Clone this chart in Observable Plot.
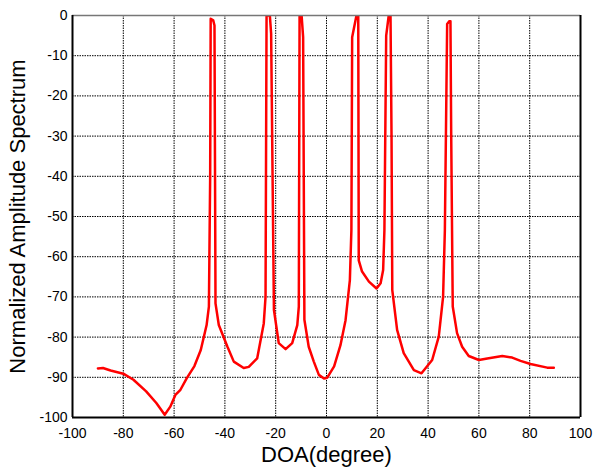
<!DOCTYPE html>
<html><head><meta charset="utf-8">
<script src="https://cdn.jsdelivr.net/npm/d3@7"></script>
<script src="https://cdn.jsdelivr.net/npm/@observablehq/plot@0.6"></script>
<style>body{margin:0;background:#fff;} #chart svg{display:block;}</style>
</head><body><div id="chart"></div>
<script>
const doa = [-90, -88, -85, -80, -76, -71, -67, -63.7, -61.5, -59.5, -57.5, -55, -52, -49.5, -47.2, -46.3, -45.8, -45.6, -44.6, -44.1, -43.7, -42.4, -39, -36.5, -32.6, -30.6, -27.3, -24.7, -24, -23.6, -22.3, -21.8, -20.7, -18.8, -16.1, -13.5, -11.5, -10.9, -10.6, -9.8, -9.2, -8.7, -7, -5, -3, -1, 0.3, 3, 5.5, 7.5, 9.2, 9.8, 10.1, 11.8, 12.5, 12.7, 14, 16.7, 19.7, 21.3, 22.3, 22.8, 23.5, 24.5, 25.2, 25.6, 25.9, 27.8, 30.4, 34.4, 37.4, 41.6, 44.2, 45.9, 46.6, 47.5, 48.4, 48.8, 49.1, 49.7, 51.4, 53.4, 56, 60, 63.3, 69.2, 73.1, 76.4, 80.3, 86.9, 89.5];
const amp = [-87.8, -87.7, -88.3, -89.1, -90.6, -93.5, -96.4, -99.3, -97.3, -94.4, -93.1, -90.2, -87.2, -83.2, -77, -72.4, -40, -0.8, -1.2, -2.5, -71.6, -77, -82.4, -86.1, -87.7, -87.4, -85.3, -76.6, -70, 0, 0, -4.5, -73.2, -81.5, -83, -81.5, -77, -72.4, 0, 0, -5.4, -75.7, -82.4, -86.1, -89.4, -90.3, -90.1, -87.3, -82, -75.8, -65.8, -53.4, -5.4, 0, 0, -60.9, -63.7, -66.2, -67.9, -66.6, -63.3, -53.4, -5, 0, 0, -30, -68.3, -78.2, -84, -88.2, -89, -85.7, -79.9, -70, -53.4, -2.1, -1.4, -1.4, -30, -72.4, -79, -82.4, -84.7, -85.7, -85.3, -84.7, -85.1, -85.9, -86.7, -87.6, -87.6];
const xTicks = [-100, -80, -60, -40, -20, 0, 20, 40, 60, 80, 100];
const yTicks = [0, -10, -20, -30, -40, -50, -60, -70, -80, -90, -100];
const xLabel = "DOA(degree)";
const yLabel = "Normalized Amplitude Spectrum";

const data = doa.map((d, i) => ({x: d, y: amp[i]}));
const font = "'Liberation Sans', Arial, sans-serif";

const plot = Plot.plot({
  width: 593, height: 468,
  marginLeft: 72, marginRight: 13, marginTop: 15, marginBottom: 51,
  x: {domain: [-100, 100]},
  y: {domain: [-100, 0]},
  style: {fontFamily: font, color: "#000", background: "#fff", overflow: "visible"},
  marks: [
    Plot.ruleX(xTicks.slice(1, -1), {stroke: "#000", strokeWidth: 1, strokeDasharray: "1.5,1", strokeOpacity: 1}),
    Plot.ruleY(yTicks.slice(1, -1), {stroke: "#000", strokeWidth: 1, strokeDasharray: "1.5,1", strokeOpacity: 1}),
    Plot.axisX({ticks: xTicks, tickSize: 0, tickPadding: 11, fontSize: 14, label: null, tickFormat: d => String(d)}),
    Plot.axisY({ticks: yTicks, tickSize: 0, tickPadding: 5, fontSize: 14, label: null, tickFormat: d => String(d)}),
    Plot.line(data, {x: "x", y: "y", stroke: "#ff0000", strokeWidth: 2.5, clip: true, strokeLinejoin: "round"}),
    Plot.ruleY([0], {stroke: "#777", strokeWidth: 1.5}),
    Plot.ruleX([100], {stroke: "#000", strokeWidth: 2}),
    Plot.ruleX([-100], {stroke: "#000", strokeWidth: 2}),
    Plot.ruleY([-100], {stroke: "#000", strokeWidth: 2}),
    Plot.text([xLabel], {frameAnchor: "bottom", dy: 37, fontSize: 22, textAnchor: "middle", lineAnchor: "middle", fill: "#000"}),
    Plot.text([yLabel], {frameAnchor: "left", dx: -55, rotate: -90, fontSize: 22, textAnchor: "middle", lineAnchor: "middle", fill: "#000"})
  ]
});
document.getElementById("chart").appendChild(plot);
</script>
</body></html>
